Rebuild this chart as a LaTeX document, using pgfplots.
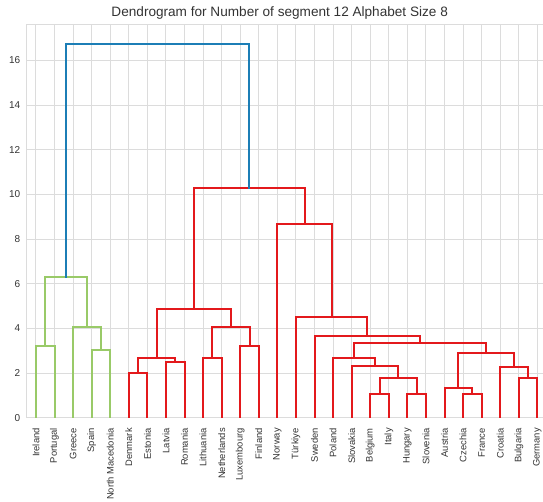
\documentclass[border=0pt]{standalone}
\usepackage{pgfplots}
\pgfplotsset{compat=1.18}
\usepackage{fontspec}
\setmainfont{Liberation Sans}
\definecolor{lgreen}{HTML}{99CA68}
\definecolor{dred}{HTML}{E3191C}
\definecolor{dblue}{HTML}{1C7EB6}
\definecolor{gridc}{HTML}{DCDCDC}
\definecolor{txt}{HTML}{333333}
\begin{document}
\begin{tikzpicture}
\begin{axis}[
  scale only axis,
  width=520pt, height=392.7pt,
  xmin=0, xmax=280, ymin=0, ymax=17.5875,
  axis line style={gridc, line width=1pt},
  grid=both, major grid style={gridc, line width=1pt},
  tick style={draw=none},
  xtick={5,15,...,275},
  xticklabels={Ireland,Portugal,Greece,Spain,North Macedonia,Denmark,Estonia,Latvia,Romania,Lithuania,Netherlands,Luxembourg,Finland,Norway,Türkiye,Sweden,Poland,Slovakia,Belgium,Italy,Hungary,Slovenia,Austria,Czechia,France,Croatia,Bulgaria,Germany},
  x tick label style={rotate=90, anchor=east, font=\fontsize{9.4}{10}\selectfont, text=txt},
  xticklabel shift=7pt,
  ytick={0,2,...,16},
  y tick label style={font=\fontsize{10}{11}\selectfont, text=txt},
  yticklabel shift=3pt,
  /pgf/number format/assume math mode=true,
  title={Dendrogram for Number of segment 12 Alphabet Size 8},
  title style={font=\fontsize{13.6}{15}\selectfont, text=txt, yshift=-4pt, xshift=-7pt},
]
\pgfplotsset{every axis plot/.style={line width=2pt, mark=none, line join=miter, line cap=rect}}
% green cluster
\addplot[lgreen] coordinates {(5,0)(5,3.20)(15,3.20)(15,0)};
\addplot[lgreen] coordinates {(35,0)(35,3.02)(45,3.02)(45,0)};
\addplot[lgreen] coordinates {(25,0)(25,4.06)(40,4.06)(40,3.02)};
\addplot[lgreen] coordinates {(10,3.20)(10,6.30)(32.5,6.30)(32.5,4.06)};
% red cluster
\addplot[dred] coordinates {(55,0)(55,2.01)(65,2.01)(65,0)};
\addplot[dred] coordinates {(75,0)(75,2.48)(85,2.48)(85,0)};
\addplot[dred] coordinates {(60,2.01)(60,2.67)(80,2.67)(80,2.48)};
\addplot[dred] coordinates {(95,0)(95,2.67)(105,2.67)(105,0)};
\addplot[dred] coordinates {(115,0)(115,3.20)(125,3.20)(125,0)};
\addplot[dred] coordinates {(100,2.67)(100,4.07)(120,4.07)(120,3.20)};
\addplot[dred] coordinates {(70,2.67)(70,4.85)(110,4.85)(110,4.07)};
\addplot[dred] coordinates {(185,0)(185,1.05)(195,1.05)(195,0)};
\addplot[dred] coordinates {(205,0)(205,1.05)(215,1.05)(215,0)};
\addplot[dred] coordinates {(190,1.05)(190,1.78)(210,1.78)(210,1.05)};
\addplot[dred] coordinates {(175,0)(175,2.33)(200,2.33)(200,1.78)};
\addplot[dred] coordinates {(165,0)(165,2.67)(187.5,2.67)(187.5,2.33)};
\addplot[dred] coordinates {(235,0)(235,1.05)(245,1.05)(245,0)};
\addplot[dred] coordinates {(225,0)(225,1.32)(240,1.32)(240,1.05)};
\addplot[dred] coordinates {(265,0)(265,1.78)(275,1.78)(275,0)};
\addplot[dred] coordinates {(255,0)(255,2.27)(270,2.27)(270,1.78)};
\addplot[dred] coordinates {(232.5,1.32)(232.5,2.90)(262.5,2.90)(262.5,2.27)};
\addplot[dred] coordinates {(176.25,2.67)(176.25,3.34)(247.5,3.34)(247.5,2.90)};
\addplot[dred] coordinates {(155,0)(155,3.66)(211.875,3.66)(211.875,3.34)};
\addplot[dred] coordinates {(145,0)(145,4.49)(183.4375,4.49)(183.4375,3.66)};
\addplot[dred] coordinates {(135,0)(135,8.67)(164.22,8.67)(164.22,4.49)};
\addplot[dred] coordinates {(90,4.85)(90,10.27)(149.61,10.27)(149.61,8.67)};
% top link
\addplot[dblue] coordinates {(21.25,6.30)(21.25,16.75)(119.8,16.75)(119.8,10.27)};
\end{axis}
\pgfresetboundingbox
\path ([shift={(-26.7pt,-83.3pt)}]current axis.south west) rectangle ([shift={(-3.7pt,25pt)}]current axis.north east);
\end{tikzpicture}
\end{document}
